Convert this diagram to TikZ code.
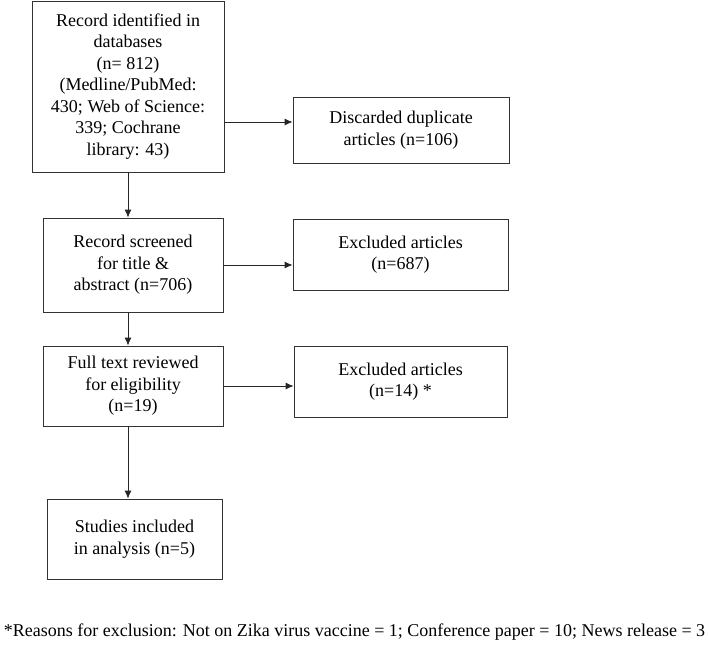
\documentclass[tikz,border=0pt]{standalone}
\usepackage{fontspec}
\setmainfont{Liberation Serif}
\usetikzlibrary{arrows.meta, positioning}

\begin{document}
\begin{tikzpicture}[x=1pt, y=-1pt,
    box/.style = {draw=black!80, line width=0.8pt, inner sep=0pt, align=center,
                  font=\fontsize{18}{21.5}\selectfont},
    arr/.style = {-{Latex[length=8pt,width=7pt]}, line width=0.8pt, draw=black!85}]
    \useasboundingbox (0,0) rectangle (709,647);

    \node (rec)  [box, minimum width=192, minimum height=171] at (128,86.5)
        {Record identified in\\databases\\(n= 812)\\(Medline/PubMed:\\430; Web of Science:\\339; Cochrane\\library: 43)};
    \node (dup)  [box, minimum width=216, minimum height=66] at (401,130)
        {Discarded duplicate\\articles (n=106)};
    \node (scr)  [box, minimum width=180, minimum height=94] at (133,265)
        {Record screened\\for title \&\\abstract (n=706)};
    \node (exc1) [box, minimum width=215, minimum height=71] at (400.5,254.5)
        {Excluded articles\\(n=687)};
    \node (full) [box, minimum width=180, minimum height=80] at (133,386)
        {Full text reviewed\\for eligibility\\(n=19)};
    \node (exc2) [box, minimum width=213, minimum height=71] at (400.5,381.5)
        {Excluded articles\\(n=14) *};
    \node (inc)  [box, minimum width=175, minimum height=80] at (134.5,539)
        {Studies included\\in analysis (n=5)};
    \node (note) [font=\fontsize{18}{21.5}\selectfont, inner sep=0pt] at (354.5,632)
        {*Reasons for exclusion: Not on Zika virus vaccine = 1; Conference paper = 10; News release = 3};

    \coordinate (d1) at ([yshift=8pt]dup.west);

    \path
        (rec.east |- d1) edge [arr] (d1)
        (rec.south) edge [arr] (rec.south |- scr.north)
        (scr.east) edge [arr] (scr.east -| exc1.west)
        (scr.south -| rec.south) edge [arr] (rec.south |- full.north)
        (full.east) edge [arr] (full.east -| exc2.west)
        (full.south -| rec.south) edge [arr] (rec.south |- inc.north);
\end{tikzpicture}
\end{document}
